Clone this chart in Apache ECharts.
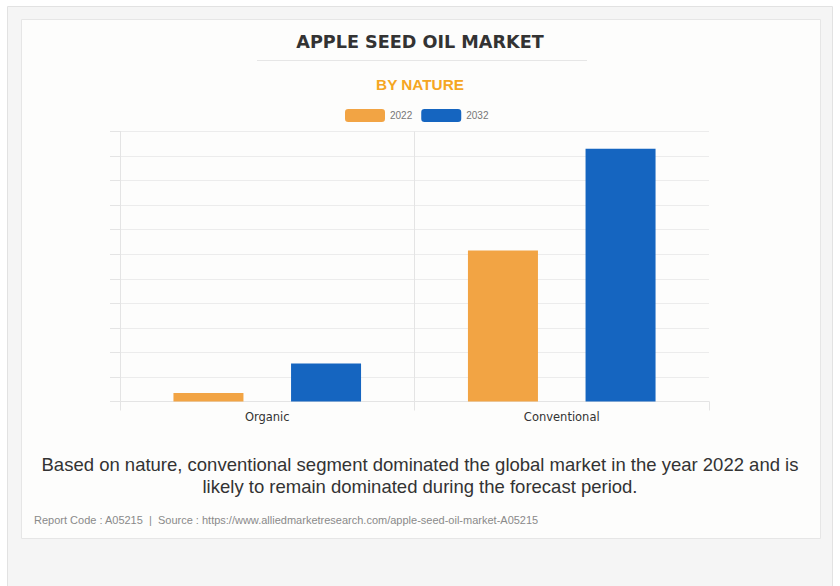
<!DOCTYPE html>
<html>
<head>
<meta charset="utf-8">
<script src="https://cdn.jsdelivr.net/npm/echarts@6/dist/echarts.min.js"></script>
<style>
html,body{margin:0;padding:0;background:#ffffff;}
#chart{width:840px;height:586px;}
</style>
</head>
<body>
<div id="chart"></div>
<script>
const categories = ['Organic', 'Conventional'];
const seriesNames = ['2022', '2032'];
const values2022 = [0.35, 6.15];
const values2032 = [1.55, 10.3];
const titleText = 'APPLE SEED OIL MARKET';
const subtitleText = 'BY NATURE';
const captionLines = ['Based on nature, conventional segment dominated the global market in the year 2022 and is', 'likely to remain dominated during the forecast period.'];
const footerText = 'Report Code : A05215  |  Source : https://www.alliedmarketresearch.com/apple-seed-oil-market-A05215';

const chart = echarts.init(document.getElementById('chart'), null, {renderer: 'svg'});
chart.setOption({
  animation: false,
  backgroundColor: 'transparent',
  graphic: [
    {type: 'rect', z: -10, shape: {x: 7.5, y: 6.5, width: 825, height: 590}, style: {fill: '#f5f5f5', stroke: '#e2e2e2', lineWidth: 1}},
    {type: 'rect', z: -9, shape: {x: 21.5, y: 19.5, width: 799, height: 519}, style: {fill: '#fdfdfc', stroke: '#e6e6e6', lineWidth: 1}},
    {type: 'line', z: -8, shape: {x1: 257, y1: 60.5, x2: 587, y2: 60.5}, style: {stroke: '#e6e6e6', lineWidth: 1}},
    {type: 'text', left: 'center', top: 455, style: {text: captionLines[0], font: '18.5px "Liberation Sans", Arial, sans-serif', fill: '#333333'}},
    {type: 'text', left: 'center', top: 477, style: {text: captionLines[1], font: '18.5px "Liberation Sans", Arial, sans-serif', fill: '#333333'}},
    {type: 'text', left: 34, top: 514, style: {text: footerText, font: '11px "Liberation Sans", Arial, sans-serif', fill: '#8a8a8a'}}
  ],
  title: [
    {text: titleText, left: 'center', top: 28, textStyle: {fontFamily: 'DejaVu Sans', fontWeight: 'bold', fontSize: 17.6, color: '#333333'}},
    {text: subtitleText, left: 'center', top: 72, textStyle: {fontFamily: '"Liberation Sans", Arial, sans-serif', fontWeight: 'bold', fontSize: 15.3, color: '#f5a623'}}
  ],
  legend: {
    top: 104, left: 340, itemWidth: 40, itemHeight: 13, itemGap: 9,
    textStyle: {fontSize: 10, color: '#777777', fontFamily: '"Liberation Sans", Arial, sans-serif'},
    data: seriesNames
  },
  grid: {left: 120, right: 131, top: 131.5, bottom: 184.5},
  xAxis: {
    type: 'category', data: categories,
    axisLine: {show: true, lineStyle: {color: '#e4e4e4'}},
    axisTick: {show: true, length: 9, lineStyle: {color: '#e4e4e4'}},
    axisLabel: {color: '#333333', fontSize: 11.5, fontFamily: 'DejaVu Sans', margin: 9},
    splitLine: {show: true, showMaxLine: false, lineStyle: {color: '#e4e4e4'}}
  },
  yAxis: {
    type: 'value', min: 0, max: 11, interval: 1,
    axisLine: {show: true, lineStyle: {color: '#e4e4e4'}},
    axisTick: {show: true, length: 10, lineStyle: {color: '#e4e4e4'}},
    axisLabel: {show: false},
    splitLine: {show: true, lineStyle: {color: '#ececec'}}
  },
  series: [
    {name: seriesNames[0], type: 'bar', data: values2022, barWidth: 70, barGap: '68%', itemStyle: {color: '#f2a444'}},
    {name: seriesNames[1], type: 'bar', data: values2032, barWidth: 70, itemStyle: {color: '#1565c0'}}
  ]
});
</script>
</body>
</html>
